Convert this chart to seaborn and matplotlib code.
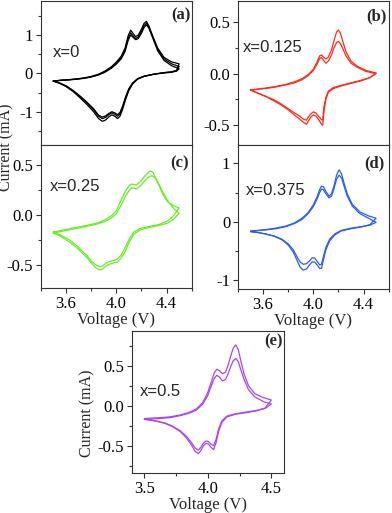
import numpy as np
import matplotlib
matplotlib.use('Agg')
import matplotlib.pyplot as plt
import seaborn as sns
from matplotlib.ticker import MultipleLocator, FormatStrFormatter

sns.set_style('ticks')
plt.rcParams['font.family'] = 'serif'
plt.rcParams['font.serif'] = ['Liberation Serif', 'DejaVu Serif']
plt.rcParams['axes.unicode_minus'] = False

# ---- data (voltage in V, current in mA) ----
# (a) x=0, three cycles
v_up_a = [3.50, 3.56, 3.62, 3.68, 3.74, 3.80, 3.86, 3.91, 3.96, 4.00, 4.04, 4.07, 4.095,
          4.115, 4.135, 4.155, 4.175, 4.20, 4.22, 4.24, 4.26, 4.29, 4.33, 4.38, 4.44, 4.50]
i_up_a1 = [-0.20, -0.18, -0.165, -0.145, -0.12, -0.08, -0.02, 0.06, 0.17, 0.29, 0.45, 0.66, 0.98,
           1.13, 1.04, 0.96, 1.00, 1.15, 1.30, 1.36, 1.24, 0.98, 0.66, 0.42, 0.30, 0.25]
i_up_a2 = [-0.20, -0.18, -0.165, -0.15, -0.125, -0.09, -0.03, 0.04, 0.15, 0.26, 0.41, 0.61, 0.91,
           1.06, 0.98, 0.91, 0.95, 1.09, 1.24, 1.31, 1.21, 0.95, 0.62, 0.38, 0.25, 0.18]
i_up_a3 = [-0.20, -0.18, -0.17, -0.155, -0.13, -0.095, -0.04, 0.03, 0.13, 0.24, 0.38, 0.57, 0.86,
           1.00, 0.94, 0.88, 0.91, 1.04, 1.19, 1.27, 1.18, 0.93, 0.59, 0.34, 0.20, 0.12]
v_dn_a = [4.50, 4.48, 4.44, 4.38, 4.30, 4.22, 4.17, 4.13, 4.10, 4.075, 4.05, 4.03, 4.01,
          3.99, 3.965, 3.94, 3.915, 3.89, 3.86, 3.82, 3.77, 3.72, 3.66, 3.60, 3.55, 3.50]
i_dn_a1 = [0.25, 0.08, 0.04, 0.02, -0.02, -0.08, -0.15, -0.28, -0.45, -0.68, -0.95, -1.12, -1.18,
           -1.12, -1.08, -1.14, -1.22, -1.25, -1.18, -1.00, -0.82, -0.66, -0.48, -0.34, -0.26, -0.20]
i_dn_a2 = [0.18, 0.07, 0.04, 0.02, -0.02, -0.08, -0.14, -0.26, -0.42, -0.64, -0.90, -1.06, -1.12,
           -1.07, -1.03, -1.08, -1.15, -1.18, -1.12, -0.95, -0.78, -0.63, -0.46, -0.33, -0.25, -0.20]
i_dn_a3 = [0.12, 0.06, 0.03, 0.01, -0.02, -0.07, -0.14, -0.25, -0.40, -0.61, -0.86, -1.02, -1.08,
           -1.03, -1.00, -1.05, -1.11, -1.14, -1.09, -0.92, -0.76, -0.61, -0.45, -0.32, -0.25, -0.20]

# (b) x=0.125
v_up_b = [3.50, 3.56, 3.62, 3.70, 3.78, 3.85, 3.91, 3.96, 4.00, 4.03, 4.05, 4.065, 4.08,
          4.10, 4.12, 4.145, 4.165, 4.185, 4.20, 4.215, 4.235, 4.26, 4.30, 4.35, 4.42, 4.50]
i_up_b1 = [-0.16, -0.15, -0.14, -0.125, -0.105, -0.08, -0.05, -0.01, 0.04, 0.11, 0.17, 0.18, 0.16,
           0.14, 0.16, 0.23, 0.32, 0.40, 0.42, 0.39, 0.31, 0.21, 0.12, 0.07, 0.03, 0.005]
i_up_b2 = [-0.16, -0.15, -0.145, -0.13, -0.11, -0.09, -0.06, -0.02, 0.03, 0.09, 0.145, 0.155, 0.13,
           0.10, 0.12, 0.18, 0.25, 0.30, 0.31, 0.29, 0.24, 0.17, 0.10, 0.06, 0.02, 0.00]
v_dn_b = [4.50, 4.45, 4.38, 4.30, 4.22, 4.16, 4.12, 4.10, 4.085, 4.075, 4.06, 4.04, 4.02,
          4.00, 3.98, 3.96, 3.945, 3.92, 3.89, 3.85, 3.80, 3.74, 3.68, 3.62, 3.56, 3.50]
i_dn_b1 = [0.005, -0.04, -0.07, -0.095, -0.12, -0.145, -0.18, -0.25, -0.36, -0.50, -0.48, -0.44, -0.41,
           -0.40, -0.42, -0.46, -0.49, -0.47, -0.44, -0.40, -0.35, -0.30, -0.26, -0.22, -0.19, -0.16]
i_dn_b2 = [0.00, -0.04, -0.065, -0.09, -0.115, -0.135, -0.17, -0.23, -0.32, -0.45, -0.44, -0.41, -0.38,
           -0.37, -0.39, -0.42, -0.45, -0.44, -0.41, -0.38, -0.34, -0.29, -0.25, -0.22, -0.19, -0.16]

# (c) x=0.25
v_up_c = [3.50, 3.56, 3.62, 3.70, 3.78, 3.85, 3.91, 3.96, 4.00, 4.04, 4.07, 4.10, 4.12,
          4.14, 4.16, 4.19, 4.22, 4.25, 4.27, 4.29, 4.31, 4.34, 4.37, 4.41, 4.46, 4.50]
i_up_c1 = [-0.17, -0.155, -0.14, -0.12, -0.10, -0.08, -0.05, -0.01, 0.04, 0.15, 0.23, 0.29, 0.31,
           0.305, 0.30, 0.33, 0.38, 0.42, 0.44, 0.43, 0.38, 0.30, 0.21, 0.13, 0.09, 0.07]
i_up_c2 = [-0.18, -0.165, -0.15, -0.13, -0.11, -0.09, -0.065, -0.03, 0.01, 0.10, 0.18, 0.24, 0.27,
           0.27, 0.26, 0.29, 0.33, 0.37, 0.39, 0.39, 0.37, 0.31, 0.23, 0.14, 0.06, 0.02]
v_dn_c = [4.50, 4.46, 4.41, 4.34, 4.26, 4.19, 4.14, 4.10, 4.07, 4.04, 4.01, 3.98, 3.95,
          3.92, 3.89, 3.87, 3.84, 3.81, 3.77, 3.73, 3.68, 3.63, 3.58, 3.54, 3.50]
i_dn_c1 = [0.07, 0.00, -0.06, -0.095, -0.115, -0.135, -0.17, -0.25, -0.33, -0.40, -0.44, -0.455, -0.465,
           -0.48, -0.51, -0.515, -0.50, -0.47, -0.41, -0.36, -0.30, -0.25, -0.215, -0.19, -0.17]
i_dn_c2 = [0.02, -0.04, -0.08, -0.105, -0.125, -0.15, -0.19, -0.28, -0.37, -0.43, -0.47, -0.48, -0.49,
           -0.51, -0.54, -0.55, -0.53, -0.49, -0.43, -0.38, -0.32, -0.27, -0.23, -0.20, -0.18]

# (d) x=0.375
v_up_d = [3.50, 3.56, 3.62, 3.70, 3.78, 3.85, 3.91, 3.96, 4.00, 4.03, 4.05, 4.065, 4.08,
          4.10, 4.125, 4.145, 4.165, 4.185, 4.205, 4.225, 4.245, 4.27, 4.31, 4.37, 4.44, 4.50]
i_up_d1 = [-0.16, -0.15, -0.135, -0.11, -0.075, -0.02, 0.06, 0.16, 0.29, 0.43, 0.55, 0.61, 0.60,
           0.52, 0.44, 0.48, 0.62, 0.80, 0.89, 0.82, 0.66, 0.48, 0.30, 0.17, 0.10, 0.06]
i_up_d2 = [-0.16, -0.15, -0.14, -0.12, -0.085, -0.03, 0.04, 0.14, 0.26, 0.39, 0.50, 0.56, 0.55,
           0.48, 0.41, 0.44, 0.57, 0.73, 0.80, 0.75, 0.61, 0.44, 0.27, 0.14, 0.06, -0.01]
v_dn_d = [4.50, 4.45, 4.38, 4.30, 4.22, 4.17, 4.13, 4.10, 4.08, 4.065, 4.05, 4.03, 4.01,
          3.99, 3.97, 3.945, 3.92, 3.895, 3.87, 3.84, 3.80, 3.75, 3.69, 3.62, 3.56, 3.50]
i_dn_d1 = [0.06, -0.05, -0.09, -0.12, -0.16, -0.23, -0.33, -0.48, -0.66, -0.80, -0.80, -0.74, -0.69,
           -0.69, -0.74, -0.81, -0.83, -0.78, -0.66, -0.52, -0.40, -0.31, -0.25, -0.21, -0.185, -0.17]
i_dn_d2 = [-0.01, -0.06, -0.085, -0.11, -0.15, -0.21, -0.30, -0.44, -0.60, -0.73, -0.74, -0.68, -0.62,
           -0.62, -0.67, -0.72, -0.73, -0.69, -0.60, -0.48, -0.38, -0.30, -0.245, -0.21, -0.185, -0.17]

# (e) x=0.5
v_up_e = [3.50, 3.56, 3.62, 3.70, 3.78, 3.85, 3.91, 3.96, 4.00, 4.03, 4.05, 4.07, 4.09,
          4.115, 4.14, 4.16, 4.18, 4.20, 4.22, 4.24, 4.26, 4.285, 4.32, 4.37, 4.44, 4.50]
i_up_e1 = [-0.16, -0.155, -0.15, -0.14, -0.117, -0.085, -0.04, 0.04, 0.17, 0.31, 0.41, 0.455, 0.44,
           0.40, 0.42, 0.51, 0.62, 0.72, 0.76, 0.70, 0.56, 0.40, 0.25, 0.15, 0.10, 0.071]
i_up_e2 = [-0.17, -0.165, -0.16, -0.15, -0.125, -0.095, -0.055, 0.02, 0.13, 0.26, 0.34, 0.38, 0.36,
           0.31, 0.33, 0.40, 0.49, 0.56, 0.59, 0.55, 0.45, 0.33, 0.20, 0.11, 0.05, 0.02]
v_dn_e = [4.50, 4.45, 4.38, 4.30, 4.22, 4.15, 4.11, 4.085, 4.065, 4.045, 4.025, 4.005, 3.985,
          3.965, 3.945, 3.925, 3.90, 3.87, 3.83, 3.78, 3.72, 3.66, 3.60, 3.55, 3.50]
i_dn_e1 = [0.071, -0.03, -0.065, -0.088, -0.105, -0.14, -0.21, -0.32, -0.46, -0.55, -0.52, -0.48, -0.47,
           -0.50, -0.56, -0.60, -0.57, -0.49, -0.40, -0.32, -0.26, -0.22, -0.195, -0.18, -0.17]
i_dn_e2 = [0.02, -0.035, -0.06, -0.08, -0.10, -0.13, -0.19, -0.29, -0.42, -0.50, -0.48, -0.45, -0.44,
           -0.47, -0.52, -0.555, -0.53, -0.46, -0.38, -0.31, -0.255, -0.215, -0.195, -0.18, -0.17]

labels = ['x=0', 'x=0.125', 'x=0.25', 'x=0.375', 'x=0.5']
tags = ['(a)', '(b)', '(c)', '(d)', '(e)']
colors = ['black', '#ff2a1a', '#66ee22', '#2e5bf0', '#a845f0']


def draw_panel(ax, v_up, ups, v_dn, dns, color):
    # each cycle is one closed loop: anodic sweep then cathodic sweep
    for i_up, i_dn in zip(ups, dns):
        sns.lineplot(x=v_up + v_dn, y=i_up + i_dn, sort=False, estimator=None,
                     color=color, lw=0.9, ax=ax)


fig = plt.figure(figsize=(3.92, 5.13), dpi=100)
ax_a = fig.add_axes([0.1038, 0.7173, 0.3852, 0.2807])
ax_b = fig.add_axes([0.6071, 0.7173, 0.3844, 0.2807])
ax_c = fig.add_axes([0.1038, 0.4380, 0.3852, 0.2793])
ax_d = fig.add_axes([0.6071, 0.4366, 0.3844, 0.2807])
ax_e = fig.add_axes([0.3360, 0.0780, 0.3885, 0.2768])
axes = [ax_a, ax_b, ax_c, ax_d, ax_e]

draw_panel(ax_a, v_up_a, [i_up_a1, i_up_a2, i_up_a3], v_dn_a, [i_dn_a1, i_dn_a2, i_dn_a3], colors[0])
draw_panel(ax_b, v_up_b, [i_up_b1, i_up_b2], v_dn_b, [i_dn_b1, i_dn_b2], colors[1])
draw_panel(ax_c, v_up_c, [i_up_c1, i_up_c2], v_dn_c, [i_dn_c1, i_dn_c2], colors[2])
draw_panel(ax_d, v_up_d, [i_up_d1, i_up_d2], v_dn_d, [i_dn_d1, i_dn_d2], colors[3])
draw_panel(ax_e, v_up_e, [i_up_e1, i_up_e2], v_dn_e, [i_dn_e1, i_dn_e2], colors[4])

ylims = [(-1.87, 1.89), (-0.69, 0.70), (-0.733, 0.70), (-1.154, 1.316), (-0.841, 0.934)]
ymajor = [1, 0.5, 0.5, 1, 0.5]
yfmt = ['%d', '%.1f', '%.1f', '%d', '%.1f']
label_pos = [(0.081, 0.646), (0.031, 0.676), (0.062, 0.709), (0.05, 0.683), (0.05, 0.573)]
tag_pos = [(0.993, 0.90), (0.987, 0.896), (0.98, 0.872), (0.975, 0.873), (0.989, 0.925)]

for k, ax in enumerate(axes):
    ax.set_xlim(3.4, 4.6)
    ax.set_ylim(*ylims[k])
    ax.yaxis.set_major_locator(MultipleLocator(ymajor[k]))
    ax.yaxis.set_minor_locator(MultipleLocator(ymajor[k] / 2))
    ax.yaxis.set_major_formatter(FormatStrFormatter(yfmt[k]))
    if k == 4:
        ax.xaxis.set_major_locator(MultipleLocator(0.5))
        ax.xaxis.set_minor_locator(MultipleLocator(0.25))
    else:
        ax.set_xticks([3.6, 4.0, 4.4])
        ax.xaxis.set_minor_locator(MultipleLocator(0.2))
    ax.xaxis.set_major_formatter(FormatStrFormatter('%.1f'))
    ax.tick_params(which='both', direction='out', width=0.8, labelsize=12,
                   color='#333333', labelcolor='black', pad=2)
    ax.tick_params(which='major', length=3.5)
    ax.tick_params(which='minor', length=2.5)
    for s in ax.spines.values():
        s.set_linewidth(0.8)
        s.set_color('#333333')
        s.set_visible(True)
    ax.set_xlabel('')
    ax.set_ylabel('')
    if k < 2:
        ax.tick_params(axis='x', labelbottom=False)
    else:
        ax.set_xlabel('Voltage (V)', fontsize=12, labelpad=0)
    ax.text(label_pos[k][0], label_pos[k][1], labels[k], transform=ax.transAxes,
            fontsize=12, family='Liberation Sans', va='center', ha='left')
    ax.text(tag_pos[k][0], tag_pos[k][1], tags[k], transform=ax.transAxes,
            fontsize=12, fontweight='bold', va='center', ha='right')

# shared y labels, squeezed against the left edge like the reference
fig.text(6.5 / 392, 1 - 147 / 513, 'Current (mA)', rotation=90, va='center', ha='center', fontsize=11.5)
fig.text(87 / 392, 1 - 413 / 513, 'Current (mA)', rotation=90, va='center', ha='center', fontsize=11.5)

plt.savefig('out.png', dpi=100)
